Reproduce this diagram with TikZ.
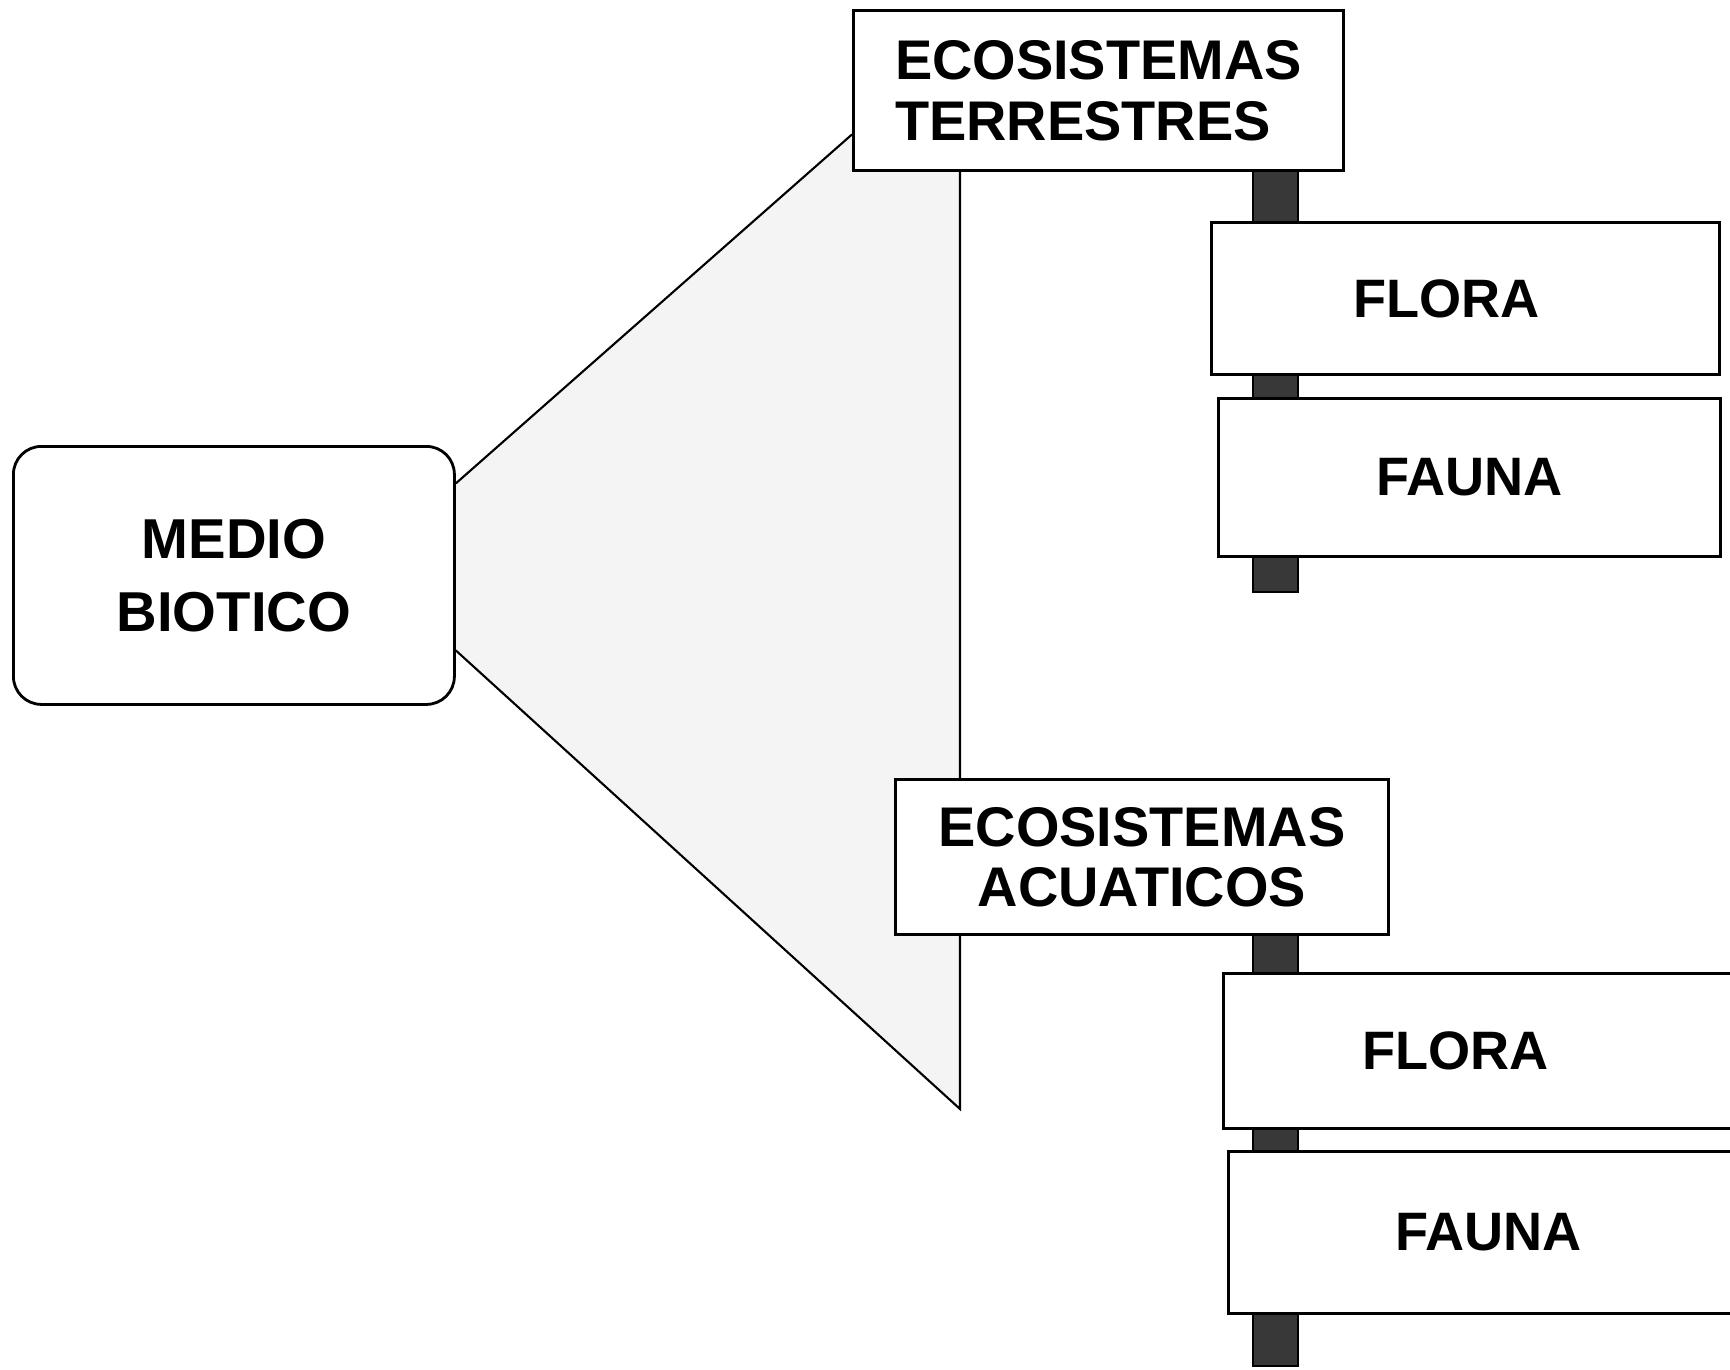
\documentclass[tikz,border=0pt]{standalone}
\usepackage{fontspec}
\setmainfont{Liberation Sans}
\usetikzlibrary{backgrounds}

\begin{document}
\begin{tikzpicture}[x=0.1mm, y=-0.1mm,
  box/.style={draw, line width=0.8pt, fill=white, anchor=north west,
    font=\bfseries\fontsize{15.4}{15}\selectfont},
  post/.style={draw, line width=0.6pt, fill=black!78},
  edge/.style={line width=0.6pt},
  stipple/.style={fill=gray!9}]
  % fixed page, boards on the right run off the edge
  \useasboundingbox (0,0) rectangle (1730,1369);
  \clip (0,0) rectangle (1730,1369);

  % left box
  \node[box, rounded corners=2.8mm, minimum width=44.1mm, minimum height=25.8mm, align=center,
        font=\bfseries\fontsize{16}{20.8}\selectfont] (medio) at (12,445) {MEDIO\\BIOTICO};

  % the two kinds of ecosystem
  \node[box, minimum width=49mm, minimum height=16mm, align=left,
        font=\bfseries\fontsize{15.9}{17.3}\selectfont] (terr) at (852,9)
    {ECOSISTEMAS\\TERRESTRES};
  \node[box, minimum width=49.3mm, minimum height=15.5mm, align=center,
        font=\bfseries\fontsize{15.9}{17}\selectfont] (acua) at (894,778)
    {ECOSISTEMAS\\ACUATICOS};

  % boards hanging on the posts
  \node[box, minimum height=15.2mm, inner xsep=14.2mm, text width=22.4mm, align=left] (flora1) at (1210,221) {FLORA};
  \node[box, minimum width=50.2mm, minimum height=15.8mm] (fauna1) at (1217,397) {FAUNA};
  \node[box, minimum height=15.5mm, inner xsep=13.9mm, text width=26mm, align=left] (flora2) at (1222,972) {FLORA};
  \node[box, minimum height=16.2mm, inner xsep=16.7mm, text width=21mm, align=left] (fauna2) at (1227,1150) {FAUNA};

  \begin{scope}[on background layer]
    % posts
    \foreach \top/\bot in {169/592, 933/1366}
      \draw[post] (1253,\top) rectangle (1298,\bot);
    % shaded wedge
    \coordinate (apex) at (960,1109);
    \fill[stipple] ([yshift=9.2mm]medio.east) -- ([yshift=-4.4mm]terr.west) -- (terr.north -| apex)
      -- (apex) -- ([yshift=-7.5mm]medio.east) -- cycle;
    \draw[edge] ([yshift=9.2mm]medio.east) -- ([yshift=-4.4mm]terr.west);
    \draw[edge] ([yshift=-7.5mm]medio.east) -- (apex) -- (terr.south -| apex);
  \end{scope}
\end{tikzpicture}
\end{document}
